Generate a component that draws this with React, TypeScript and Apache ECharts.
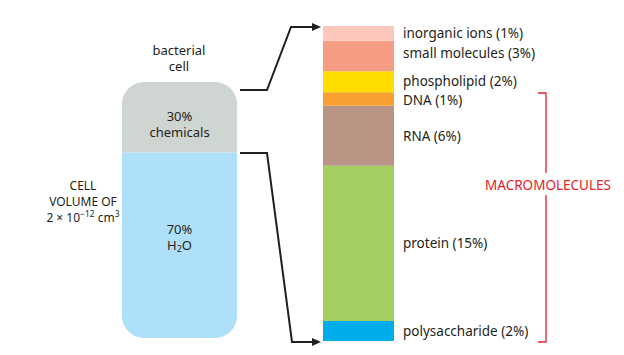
import React, { useEffect, useRef } from "react";
import * as echarts from "echarts";

// Cell composition (top to bottom)
const cellParts = ["chemicals", "water"];
const cellValues = [27.5, 72.5];
const cellColors = ["#cfd5d1", "#aee0f9"];

// Chemical composition (top to bottom), % of cell
const chemNames = [
  "inorganic ions (1%)",
  "small molecules (3%)",
  "phospholipid (2%)",
  "DNA (1%)",
  "RNA (6%)",
  "protein (15%)",
  "polysaccharide (2%)",
];
const chemValues = [1.4, 2.9, 2.0, 1.3, 5.7, 14.8, 1.9];
const chemColors = ["#fbc8bb", "#f59c85", "#ffdd00", "#f8a030", "#b79483", "#a4cd62", "#00adeb"];
const chemLabelOffsetY = [0, -3, -1, 1, 0, 0, 0];

const FONT = "'Noto Sans', sans-serif";
const FS = 13.5;
const INK = "#231f20";
const RED = "#e8202a";

export default function App() {
  const ref = useRef<HTMLDivElement>(null);
  useEffect(() => {
    const chart = echarts.init(ref.current!, null, { renderer: "svg" });

    const cellSeries = cellParts.map((p, i) => ({
      type: "bar",
      name: p,
      xAxisIndex: 0,
      yAxisIndex: 0,
      stack: "cell",
      barWidth: "100%",
      data: [cellValues[i]],
      itemStyle: {
        color: cellColors[i],
        borderRadius: i === 0 ? [22, 22, 0, 0] : [0, 0, 22, 22],
      },
      label: {
        show: true,
        position: "inside",
        fontFamily: FONT,
        fontSize: 13,
        color: INK,
        lineHeight: 16,
        offset: i === 0 ? [0, 7] : [0, -8],
        formatter: i === 0 ? "{a|30%}\n{a|chemicals}" : "{a|70%}\n{a|H}{sub|2}{a|O}",
        rich: {
          a: { fontFamily: FONT, fontSize: 13, color: INK, lineHeight: 16 },
          sub: { fontFamily: FONT, fontSize: 9, color: INK, lineHeight: 16, verticalAlign: "bottom", padding: [3, 0, 0, 0] },
        },
      },
    }));
    // stack bottom-to-top: reverse order
    cellSeries.reverse();

    const chemSeries = chemNames.map((n, i) => ({
      type: "bar",
      name: n,
      xAxisIndex: 1,
      yAxisIndex: 1,
      stack: "chem",
      barWidth: "100%",
      data: [chemValues[i]],
      itemStyle: { color: chemColors[i] },
      label: {
        show: true,
        position: "right",
        distance: 9,
        offset: [0, chemLabelOffsetY[i]],
        formatter: n,
        fontFamily: FONT,
        fontSize: FS,
        color: INK,
      },
    }));
    chemSeries.reverse();

    const sum = (a: number[]) => a.reduce((s, v) => s + v, 0);

    chart.setOption({
      animation: false,
      grid: [
        { left: 122, top: 82, width: 115, height: 256 },
        { left: 323, top: 26, width: 71, height: 315 },
      ],
      xAxis: [
        { type: "category", gridIndex: 0, data: ["cell"], show: false },
        { type: "category", gridIndex: 1, data: ["chem"], show: false },
      ],
      yAxis: [
        { type: "value", gridIndex: 0, min: 0, max: sum(cellValues), show: false },
        { type: "value", gridIndex: 1, min: 0, max: sum(chemValues), show: false },
      ],
      series: [...cellSeries, ...chemSeries],
      graphic: [
        {
          type: "text",
          x: 179,
          y: 58,
          style: {
            text: "{a|bacterial}\n{a|cell}",
            fontFamily: FONT,
            fontSize: FS,
            fill: INK,
            align: "center",
            verticalAlign: "middle",
            rich: { a: { fontFamily: FONT, fontSize: 13, fill: INK, lineHeight: 16 } },
          },
        },
        {
          type: "text",
          x: 83,
          y: 201,
          style: {
            text: "{a|CELL}\n{a|VOLUME OF}\n{a|2 × 10}{sup|−12}{a| cm}{sup|3}",
            fontFamily: FONT,
            fontSize: 12,
            fill: INK,
            align: "center",
            verticalAlign: "middle",
            rich: {
              a: { fontFamily: FONT, fontSize: 12, fill: INK, lineHeight: 16 },
              sup: { fontFamily: FONT, fontSize: 8.5, fill: INK, lineHeight: 16, verticalAlign: "top", padding: [0, 0, 3, 0] },
            },
          },
        },
        {
          type: "polyline",
          shape: { points: [[240, 90], [267, 90], [291, 27], [313, 27]] },
          style: { stroke: INK, lineWidth: 2, fill: null },
        },
        {
          type: "polygon",
          shape: { points: [[321, 27], [312, 23], [312, 31]] },
          style: { fill: INK },
        },
        {
          type: "polyline",
          shape: { points: [[240, 153], [267, 153], [292, 342], [313, 342]] },
          style: { stroke: INK, lineWidth: 2, fill: null },
        },
        {
          type: "polygon",
          shape: { points: [[321, 342], [312, 338], [312, 346]] },
          style: { fill: INK },
        },
        {
          type: "polyline",
          shape: { points: [[538, 93], [546, 93], [546, 173]] },
          style: { stroke: RED, lineWidth: 1.3, fill: null },
        },
        {
          type: "polyline",
          shape: { points: [[546, 195], [546, 342], [538, 342]] },
          style: { stroke: RED, lineWidth: 1.3, fill: null },
        },
        {
          type: "text",
          x: 548,
          y: 185,
          style: {
            text: "MACROMOLECULES",
            fontFamily: FONT,
            fontSize: FS,
            fill: RED,
            align: "center",
            verticalAlign: "middle",
          },
        },
      ],
    });
    return () => chart.dispose();
  }, []);
  return <div ref={ref} style={{ position: "absolute", left: 0, top: 0, width: 624, height: 355 }} />;
}
